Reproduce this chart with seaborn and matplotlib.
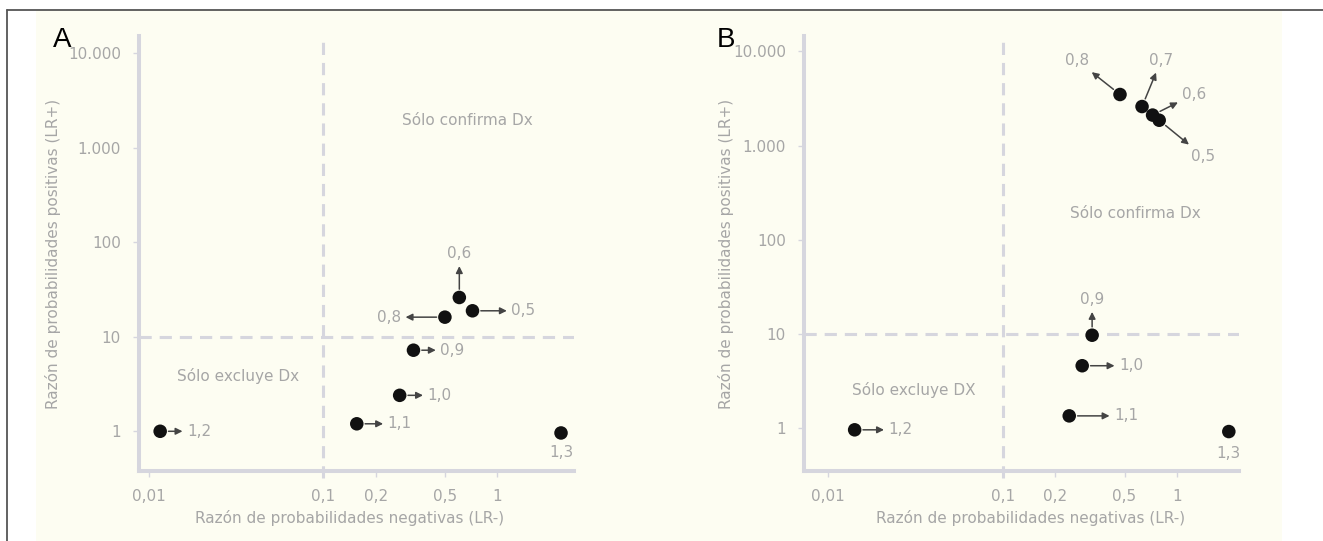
import matplotlib.pyplot as plt
import seaborn as sns
from matplotlib.lines import Line2D
from matplotlib.patches import Rectangle

# datos (LR- en x, LR+ en y)
labels_a = ['1,2', '1,1', '1,0', '0,9', '0,8', '0,6', '0,5', '1,3']
lr_neg_a = [0.0116, 0.156, 0.275, 0.33, 0.50, 0.605, 0.72, 2.32]
lr_pos_a = [1.0, 1.2, 2.4, 7.2, 16.1, 26.0, 18.8, 0.96]

labels_b = ['1,2', '1,1', '1,0', '0,9', '0,8', '0,7', '0,6', '0,5', '1,3']
lr_neg_b = [0.0142, 0.241, 0.286, 0.326, 0.471, 0.63, 0.724, 0.79, 1.98]
lr_pos_b = [0.96, 1.35, 4.6, 9.7, 3490, 2600, 2110, 1860, 0.92]

x_ticks = [0.01, 0.1, 0.2, 0.5, 1]
x_ticklabels = ['0,01', '0,1', '0,2', '0,5', '1']
y_ticks = [1, 10, 100, 1000, 10000]
y_ticklabels = ['1', '10', '100', '1.000', '10.000']

xlabel = 'Razón de probabilidades negativas (LR-)'
ylabel = 'Razón de probabilidades positivas (LR+)'

# posición de las etiquetas (pixeles desde el punto): dx, dy, ha, va, flecha
offsets_a = {
    '1,2': (27, 0, 'left', 'center', True),
    '1,1': (31, 0, 'left', 'center', True),
    '1,0': (28, 0, 'left', 'center', True),
    '0,9': (27, 0, 'left', 'center', True),
    '0,8': (-44, 0, 'right', 'center', True),
    '0,6': (0, 36, 'center', 'bottom', True),
    '0,5': (39, 0, 'left', 'center', True),
    '1,3': (0, -12, 'center', 'top', False),
}
offsets_b = {
    '1,2': (34, 0, 'left', 'center', True),
    '1,1': (45, 0, 'left', 'center', True),
    '1,0': (37, 0, 'left', 'center', True),
    '0,9': (0, 28, 'center', 'bottom', True),
    '0,8': (-43, 34, 'center', 'center', True),
    '0,7': (19, 46, 'center', 'center', True),
    '0,6': (42, 21, 'center', 'center', True),
    '0,5': (44, -36, 'center', 'center', True),
    '1,3': (0, -14, 'center', 'top', False),
}

sns.set_theme(style='white')
plt.rcParams['font.family'] = ['DejaVu Sans']

W, H = 1323, 541
GRAY_TXT = '#a6a6a6'
GRAY_AX = '#d6d6de'

fig = plt.figure(figsize=(W / 100, H / 100), dpi=100)
fig.patch.set_facecolor('white')
fig.patches.append(Rectangle((36 / W, 0), (1282 - 36) / W, (H - 10) / H,
                             transform=fig.transFigure, facecolor='#fdfdf2',
                             edgecolor='none', zorder=-5))
fig.add_artist(Line2D([7 / W, 1], [1 - 10 / H] * 2, color='#555555', lw=1.3))
fig.add_artist(Line2D([7 / W] * 2, [0, 1 - 10 / H], color='#555555', lw=1.3))


def draw_panel(left_px, x, y, labels, offsets, xlim, ylim, regions, ylab_x, xlab_x, letter, letter_px):
    ax = fig.add_axes([left_px / W, (H - 471) / H, 435 / W, 435 / H])
    ax.set_facecolor('none')
    ax.set_xscale('log')
    ax.set_yscale('log')
    ax.axvline(0.1, ymin=-0.016, ymax=1, color=GRAY_AX, lw=2.2, dashes=(4, 2.6), clip_on=False, zorder=1)
    ax.axhline(10, color=GRAY_AX, lw=2.2, dashes=(4, 2.6), zorder=1)
    sns.scatterplot(x=x, y=y, ax=ax, s=95, color='#111111', edgecolor='none', zorder=5)
    ax.set_xlim(*xlim)
    ax.set_ylim(*ylim)
    ax.set_xticks(x_ticks, x_ticklabels)
    ax.set_yticks(y_ticks, y_ticklabels)
    ax.minorticks_off()
    for s in ['top', 'right']:
        ax.spines[s].set_visible(False)
    for s in ['left', 'bottom']:
        ax.spines[s].set_color(GRAY_AX)
        ax.spines[s].set_linewidth(2.9)
    ax.tick_params(length=4, width=1, color=GRAY_AX, pad=9, labelsize=11, labelcolor=GRAY_TXT,
                   left=True, bottom=True)
    ax.set_xlabel(xlabel, fontsize=11, color=GRAY_TXT)
    ax.set_ylabel(ylabel, fontsize=11, color=GRAY_TXT)
    ax.xaxis.set_label_coords(xlab_x, -0.09)
    ax.yaxis.set_label_coords(ylab_x, 0.5)

    for lab, xv, yv in zip(labels, x, y):
        dx, dy, ha, va, arrow = offsets[lab]
        props = None
        if arrow:
            props = dict(arrowstyle='<|-', color='#444444', lw=1.1, mutation_scale=10,
                         shrinkA=1, shrinkB=6)
        ax.annotate(lab, (xv, yv), xytext=(dx, dy), textcoords='offset pixels',
                    ha=ha, va=va, fontsize=11, color=GRAY_TXT, arrowprops=props, zorder=6)

    for txt, fx, fy in regions:
        ax.text(fx, fy, txt, transform=ax.transAxes, ha='center', va='center',
                fontsize=11, color=GRAY_TXT)

    fig.text(letter_px / W, 1 - 47 / H, letter, fontsize=20, color='black',
             family=['Liberation Sans', 'DejaVu Sans'], ha='left', va='baseline')
    return ax


draw_panel(139, lr_neg_a, lr_pos_a, labels_a, offsets_a,
           (10 ** -2.057, 10 ** 0.44), (10 ** -0.42, 10 ** 4.18),
           [('Sólo confirma Dx', 0.754, 0.805), ('Sólo excluye Dx', 0.228, 0.218)],
           -0.18, 0.485, 'A', 53)
draw_panel(804, lr_neg_b, lr_pos_b, labels_b, offsets_b,
           (10 ** -2.138, 10 ** 0.355), (10 ** -0.455, 10 ** 4.164),
           [('Sólo confirma Dx', 0.7625, 0.591), ('Sólo excluye DX', 0.252, 0.186)],
           -0.16, 0.52, 'B', 717)

fig.savefig('out.png', dpi=100)
